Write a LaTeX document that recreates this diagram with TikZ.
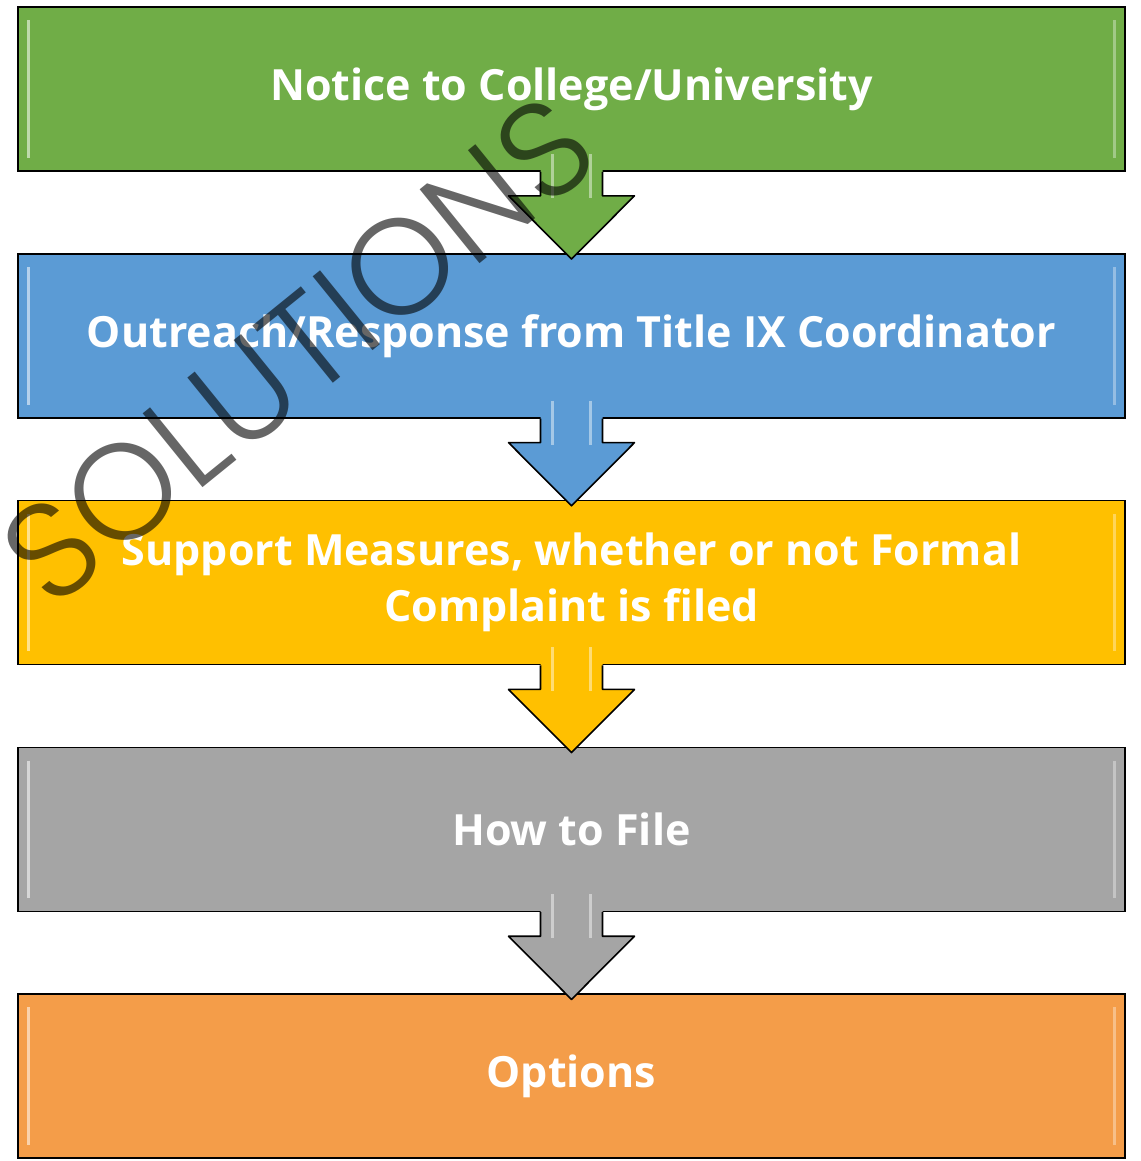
\documentclass[tikz,border=0pt]{standalone}
\usepackage{fontspec}
\newfontfamily\boxfont{Open Sans}
\newfontfamily\markfont{Poppins}[UprightFont=* Light]
\usetikzlibrary{positioning,calc}
\definecolor{stepgreen}{HTML}{70AD47}
\definecolor{stepblue}{HTML}{5B9BD5}
\definecolor{stepgold}{HTML}{FFC000}
\definecolor{stepgray}{HTML}{A5A5A5}
\definecolor{steporange}{HTML}{F49D49}

\begin{document}
\begin{tikzpicture}[x=0.5pt, y=-0.5pt,
    stepbox/.style={draw=black, line width=0.8pt, minimum width=553.5pt, minimum height=82pt,
        inner sep=0pt, text=white, align=center, font=\boxfont\bfseries\fontsize{21.5}{28}\selectfont},
    node distance=40.6pt]
    \useasboundingbox (0,0) rectangle (1140,1161);

    \node[stepbox, fill=stepgreen] (notice) at (571.5,89) {Notice to College/University};
    \node[stepbox, fill=stepblue, below=of notice] (outreach) {Outreach/Response from Title IX Coordinator};
    \node[stepbox, fill=stepgold, below=of outreach] (support) {Support Measures, whether or not Formal\\Complaint is filed};
    \node[stepbox, fill=stepgray, below=of support] (howto) {How to File};
    \node[stepbox, fill=steporange, below=of howto] (options) {Options};

    % glossy edges
    \foreach \n in {notice,outreach,support,howto,options} {
        \draw[white, opacity=0.55, line width=1.5pt] ($(\n.north west)+(11,14)$) -- ($(\n.south west)+(11,-14)$);
        \draw[white, opacity=0.35, line width=1.5pt] ($(\n.north east)+(-11,14)$) -- ($(\n.south east)+(-11,-14)$);
    }

    % block arrows between the steps
    \foreach \a/\b/\c in {notice/outreach/stepgreen, outreach/support/stepblue,
                          support/howto/stepgold, howto/options/stepgray} {
        \fill[\c] ($(\a.south)+(-31,-26)$) -- ($(\a.south)+(-31,24)$) -- ($(\a.south)+(-63,24)$)
            -- ($(\b.north)+(0,6)$) -- ($(\a.south)+(63,24)$) -- ($(\a.south)+(31,24)$)
            -- ($(\a.south)+(31,-26)$) -- cycle;
        \draw[white, opacity=0.45, line width=1.5pt] ($(\a.south)+(-19,-18)$) -- ($(\a.south)+(-19,26)$);
        \draw[white, opacity=0.45, line width=1.5pt] ($(\a.south)+(19,-18)$) -- ($(\a.south)+(19,26)$);
        \draw[line width=0.8pt, line join=round] ($(\a.south)+(-31,0)$) -- ($(\a.south)+(-31,24)$)
            -- ($(\a.south)+(-63,24)$) -- ($(\b.north)+(0,6)$) -- ($(\a.south)+(63,24)$)
            -- ($(\a.south)+(31,24)$) -- ($(\a.south)+(31,0)$);
    }

    \node[rotate=39, text=black, text opacity=0.6, font=\markfont\fontsize{68}{68}\selectfont] (mark) at (298,350) {SOLUTIONS};
\end{tikzpicture}
\end{document}
